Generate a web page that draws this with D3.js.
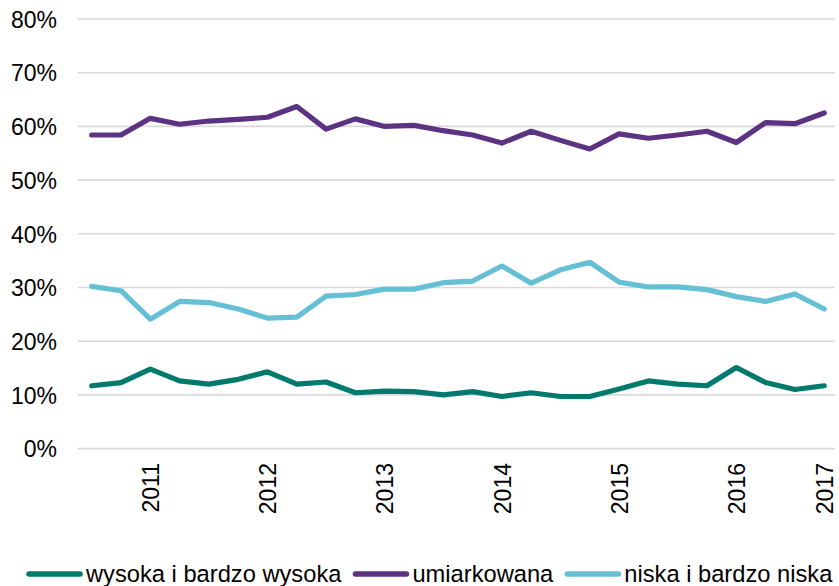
<!DOCTYPE html>
<html><head><meta charset="utf-8">
<script src="https://cdn.jsdelivr.net/npm/d3@7"></script>
<style>
html,body{margin:0;padding:0;background:#fff;}
svg{display:block;font-family:"Liberation Sans",Arial,sans-serif;}
</style></head>
<body><svg id="c" width="839" height="586"></svg>
<script>
const categories = ["2010Q3","2010Q4","2011Q1","2011Q2","2011Q3","2011Q4","2012Q1","2012Q2","2012Q3","2012Q4","2013Q1","2013Q2","2013Q3","2013Q4","2014Q1","2014Q2","2014Q3","2014Q4","2015Q1","2015Q2","2015Q3","2015Q4","2016Q1","2016Q2","2016Q3","2016Q4"];
const tickCategories = ["2011Q1","2012Q1","2013Q1","2014Q1","2015Q1","2016Q1","2016Q4"];
const tickLabels = ["2011","2012","2013","2014","2015","2016","2017"];
const yTicks = [0,10,20,30,40,50,60,70,80];
const seriesNames = ["wysoka i bardzo wysoka","umiarkowana","niska i bardzo niska"];
const wysoka = [11.7,12.3,14.8,12.6,12.0,12.9,14.3,12.0,12.4,10.4,10.7,10.6,10.0,10.6,9.7,10.4,9.7,9.7,11.1,12.6,12.0,11.7,15.1,12.3,11.0,11.7];
const umiarkowana = [58.4,58.4,61.5,60.4,61.0,61.3,61.7,63.7,59.5,61.4,60.0,60.2,59.2,58.4,56.9,59.1,57.4,55.8,58.6,57.8,58.4,59.1,57.0,60.7,60.5,62.5];
const niska = [30.2,29.4,24.1,27.4,27.2,26.0,24.3,24.5,28.4,28.7,29.7,29.7,30.9,31.2,34.0,30.8,33.3,34.7,31.0,30.1,30.1,29.6,28.3,27.4,28.8,26.0];
const colors = ["#007A6D","#5C3283","#65C0D6"];

const svg = d3.select("#c");
const x = d3.scalePoint().domain(categories).range([91.7, 824.2]);
const y = d3.scaleLinear().domain([0,80]).range([448.6, 19]);

// gridlines
const yAxis = d3.axisLeft(y).tickValues(yTicks).tickFormat(d => d + "%").tickSize(0).tickPadding(0);
const gy = svg.append("g").attr("transform","translate(57,0)").call(yAxis);
gy.select(".domain").remove();
gy.selectAll("text").attr("font-size","23px").attr("fill","#000").attr("dy","0.36em").style("font-family","'Liberation Sans',Arial,sans-serif");
svg.append("g").selectAll("line").data(yTicks).join("line")
  .attr("x1",78).attr("x2",835).attr("y1",d=>y(d)).attr("y2",d=>y(d))
  .attr("stroke","#d9d9d9").attr("stroke-width",1.6);

// x axis labels
const xAxis = d3.axisBottom(x).tickValues(tickCategories)
  .tickFormat(d => tickLabels[tickCategories.indexOf(d)]).tickSize(0).tickPadding(0);
const gx = svg.append("g").attr("transform","translate(0,463)").call(xAxis);
gx.select(".domain").remove();
gx.selectAll("text").attr("font-size","23px").attr("fill","#000")
  .attr("transform","rotate(-90)").attr("text-anchor","end")
  .attr("x",0).attr("y",0).attr("dy","0.36em")
  .style("font-family","'Liberation Sans',Arial,sans-serif");

// lines
const data = [wysoka, umiarkowana, niska];
const line = d3.line().x((d,i)=>x(categories[i])).y(d=>y(d));
svg.append("g").selectAll("path").data(data).join("path")
  .attr("d", line).attr("fill","none")
  .attr("stroke",(d,i)=>colors[i]).attr("stroke-width",5.2)
  .attr("stroke-linejoin","round").attr("stroke-linecap","round");

// legend
const lg = svg.append("g");
let lx = 29;
const ly = 574;
seriesNames.forEach((name,i)=>{
  lg.append("line").attr("x1",lx).attr("x2",lx+51).attr("y1",ly).attr("y2",ly)
    .attr("stroke",colors[i]).attr("stroke-width",5.5).attr("stroke-linecap","round");
  const t = lg.append("text").attr("x",lx+57).attr("y",ly).attr("dy","0.33em")
    .attr("font-size","23.7px").attr("fill","#000").text(name);
  const w = t.node().getComputedTextLength();
  lx = lx + 57 + w + 14;
});
</script></body></html>
